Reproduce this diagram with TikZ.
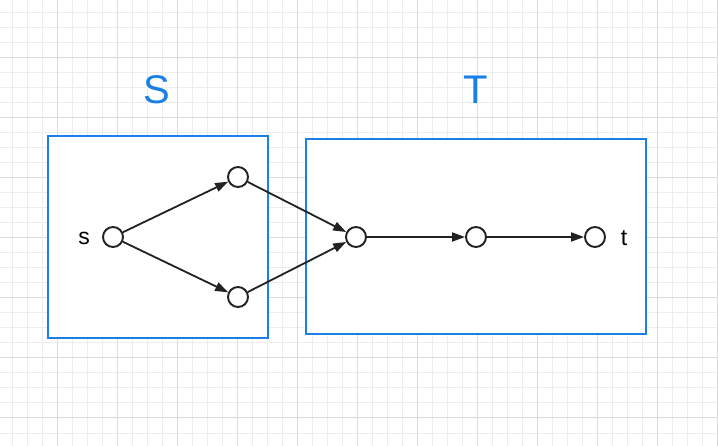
\documentclass[tikz,border=0pt]{standalone}
\usepackage{fontspec}
\setmainfont{Liberation Sans}
\usetikzlibrary{arrows.meta}
\definecolor{gridminor}{HTML}{EDEDED}
\definecolor{gridmajor}{HTML}{DCDCDC}
\definecolor{boxblue}{HTML}{1A7FE6}
\definecolor{edgegray}{HTML}{222222}
\tikzset{
  vert/.style={circle,draw=edgegray,line width=1.9pt,fill=white,minimum size=20pt,inner sep=0pt},
  edge/.style={draw=edgegray,line width=1.8pt,-{Triangle[length=13pt,width=9pt]}},
  setbox/.style={draw=boxblue,line width=1.8pt},
  setlabel/.style={text=boxblue,font=\fontsize{40}{40}\selectfont},
  vlabel/.style={text=black,font=\fontsize{23}{23}\selectfont}
}
\begin{document}
\begin{tikzpicture}[x=1pt,y=-1pt]
\useasboundingbox (0,0) rectangle (718,446);
\fill[white] (0,0) rectangle (718,446);
% grid
\foreach \x in {12,27,...,718} \draw[gridminor,line width=1pt] (\x,0) -- (\x,446);
\foreach \y in {13,28,...,446} \draw[gridminor,line width=1pt] (0,\y) -- (718,\y);
\foreach \x in {57,117,...,718} \draw[gridmajor,line width=1pt] (\x,0) -- (\x,446);
\foreach \y in {58,118,...,446} \draw[gridmajor,line width=1pt] (0,\y) -- (718,\y);
% boxes
\node[setbox,fill=white,minimum width=220pt,minimum height=202pt,inner sep=0pt] (boxS) at (158,237) {};
\node[setbox,fill=white,minimum width=340pt,minimum height=195pt,inner sep=0pt] (boxT) at (476,236.5) {};
\node[setlabel] (labS) at (157,90) {S};
\node[setlabel] (labT) at (476,90) {T};
% vertices
\node[vert] (s) at (113,237) {};
\node[vert] (a) at (238,177) {};
\node[vert] (b) at (238,297) {};
\node[vert] (c) at (356,237) {};
\node[vert] (d) at (476,237) {};
\node[vert] (t) at (595,237) {};
\node[vlabel] (ls) at (84,238) {s};
\node[vlabel] (lt) at (624,238) {t};
% edges
\draw[edge] (s) -- (a);
\draw[edge] (s) -- (b);
\draw[edge] (a) -- (c);
\draw[edge] (b) -- (c);
\draw[edge] (c) -- (d);
\draw[edge] (d) -- (t);
\end{tikzpicture}
\end{document}
